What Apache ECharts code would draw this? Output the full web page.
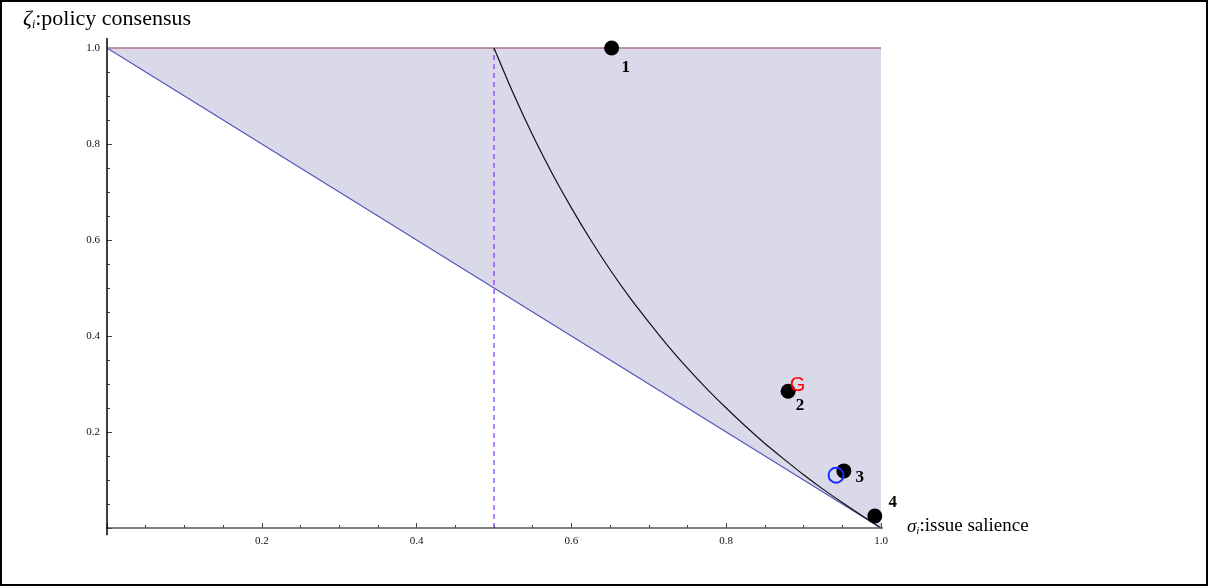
<!DOCTYPE html>
<html>
<head>
<meta charset="utf-8">
<script src="https://cdn.jsdelivr.net/npm/echarts@6/dist/echarts.min.js"></script>
<style>
  html, body { margin: 0; padding: 0; background: #fff; }
  #chart { width: 1208px; height: 586px; }
</style>
</head>
<body>
<div id="chart"></div>
<script>
// boundary of the shaded region (zeta = 1 - sigma) and the top edge
const lowerX = [0, 1]
const lowerY = [1, 0]
const topX = [0, 1]
const topY = [1, 1]
// threshold sigma = 0.5
const dashX = [0.5, 0.5]
const dashY = [0, 1]
// black curve
const curveX = [0.5, 0.525, 0.55, 0.575, 0.6, 0.625, 0.65, 0.675, 0.7, 0.725, 0.75, 0.775, 0.8, 0.825, 0.85, 0.875, 0.9, 0.925, 0.95, 0.975, 1.0]
const curveY = [1.0, 0.905, 0.818, 0.739, 0.667, 0.6, 0.538, 0.481, 0.429, 0.379, 0.333, 0.29, 0.25, 0.212, 0.176, 0.143, 0.111, 0.081, 0.053, 0.026, 0.0]
// parties
const partyNames = ['1', '2', '3', '4']
const partyX = [0.652, 0.880, 0.952, 0.992]
const partyY = [1.0, 0.285, 0.119, 0.025]
// G (red) and blue circle
const gPoint = [0.891, 0.298]
const oPoint = [0.942, 0.110]
// axis ticks
const tickLabels = ['0.2', '0.4', '0.6', '0.8', '1.0']

const pairs = (xs, ys) => xs.map((x, i) => [x, ys[i]])
const serif = '"Liberation Serif", "DejaVu Serif", serif'
const labelOffsets = [[14, 20], [12, 14], [16, 7], [18, -13]]

const axisCommon = {
  type: 'value',
  min: 0,
  max: 1,
  interval: 0.2,
  axisLine: { show: false },
  axisTick: { show: true, inside: true, length: 5, lineStyle: { color: '#444', width: 1 } },
  minorTick: { show: true, splitNumber: 4, length: 3, lineStyle: { color: '#444', width: 1 } },
  splitLine: { show: false },
  minorSplitLine: { show: false },
  axisLabel: {
    color: '#111',
    fontSize: 11,
    fontFamily: serif,
    formatter: v => tickLabels.find(t => Math.abs(parseFloat(t) - v) < 1e-6) || ''
  }
}

const option = {
  animation: false,
  backgroundColor: '#fff',
  grid: { left: 107, right: 327, top: 48, bottom: 58 },
  xAxis: Object.assign({}, axisCommon, {
    axisLabel: Object.assign({}, axisCommon.axisLabel, { margin: 8 })
  }),
  yAxis: Object.assign({}, axisCommon, {
    axisLabel: Object.assign({}, axisCommon.axisLabel, { margin: 7 })
  }),
  title: {
    left: 18,
    top: 3,
    text: '{g|ζ}{s|i}{t|:policy consensus}',
    textStyle: {
      fontWeight: 'normal',
      rich: {
        g: { fontFamily: serif, fontStyle: 'italic', fontWeight: 'normal', fontSize: 22, color: '#000' },
        s: { fontFamily: serif, fontStyle: 'italic', fontWeight: 'normal', fontSize: 12, color: '#000', padding: [11, 0, 0, 0] },
        t: { fontFamily: serif, fontWeight: 'normal', fontSize: 22, color: '#000' }
      }
    }
  },
  graphic: [
    {
      type: 'text',
      left: 907,
      top: 517,
      style: {
        text: '{g|σ}{s|i}{t|:issue salience}',
        rich: {
          g: { fontFamily: serif, fontStyle: 'italic', fontSize: 19, fill: '#000' },
          s: { fontFamily: serif, fontStyle: 'italic', fontSize: 11, fill: '#000', padding: [10, 0, 0, 0] },
          t: { fontFamily: serif, fontSize: 19, fill: '#000' }
        }
      }
    },
    {
      type: 'rect',
      shape: { x: 1, y: 1, width: 1206, height: 584 },
      style: { fill: 'none', stroke: '#000', lineWidth: 2 },
      silent: true
    }
  ],
  series: [
    { // shaded region between the diagonal and zeta = 1
      type: 'line',
      data: pairs(lowerX, lowerY),
      symbol: 'none',
      lineStyle: { color: '#5555b8', width: 1.2 },
      areaStyle: { origin: 'end', color: '#d9d9ea', opacity: 1 },
      z: 1
    },
    {
      type: 'line',
      data: pairs(topX, topY),
      symbol: 'none',
      lineStyle: { color: '#b07090', width: 1.6 },
      clip: false,
      z: 2
    },
    {
      type: 'line',
      data: pairs(dashX, dashY),
      symbol: 'none',
      lineStyle: { color: '#8a3cff', width: 1.3, type: [5, 4] },
      z: 2
    },
    {
      type: 'line',
      data: pairs(curveX, curveY),
      symbol: 'none',
      smooth: 0.25,
      lineStyle: { color: '#111', width: 1.2 },
      z: 3
    },
    { // axes drawn as lines so they run a little past the plot range
      type: 'line',
      data: [[-0.019, 0], [1.022, 0]],
      symbol: 'none',
      clip: false,
      silent: true,
      lineStyle: { color: '#555', width: 1.5 },
      z: 4
    },
    {
      type: 'line',
      data: [[0, -0.015], [0, 1.021]],
      symbol: 'none',
      clip: false,
      silent: true,
      lineStyle: { color: '#000', width: 1.5 },
      z: 4
    },
    {
      type: 'scatter',
      data: [gPoint],
      symbolSize: 1,
      itemStyle: { color: 'rgba(0,0,0,0)', opacity: 1 },
      label: {
        show: true,
        position: 'inside',
        formatter: 'G',
        color: '#ff0000',
        fontSize: 20,
        fontFamily: '"Liberation Sans", Arial, sans-serif',
        offset: [1, 1]
      },
      z: 6
    },
    {
      type: 'scatter',
      data: pairs(partyX, partyY).map((p, i) => ({
        value: p,
        label: { offset: labelOffsets[i] }
      })),
      symbol: 'circle',
      symbolSize: 15,
      clip: false,
      itemStyle: { color: '#000', opacity: 1 },
      label: {
        show: true,
        position: 'inside',
        formatter: p => partyNames[p.dataIndex],
        color: '#000',
        fontSize: 17,
        fontWeight: 'bold',
        fontFamily: serif
      },
      z: 5
    },
    {
      type: 'scatter',
      data: [oPoint],
      symbol: 'circle',
      symbolSize: 15,
      itemStyle: { color: 'rgba(0,0,0,0)', borderColor: '#1a2cff', borderWidth: 2, opacity: 1 },
      z: 7
    }
  ]
}

const chartObj = echarts.init(document.getElementById('chart'))
chartObj.setOption(option)
</script>
</body>
</html>
